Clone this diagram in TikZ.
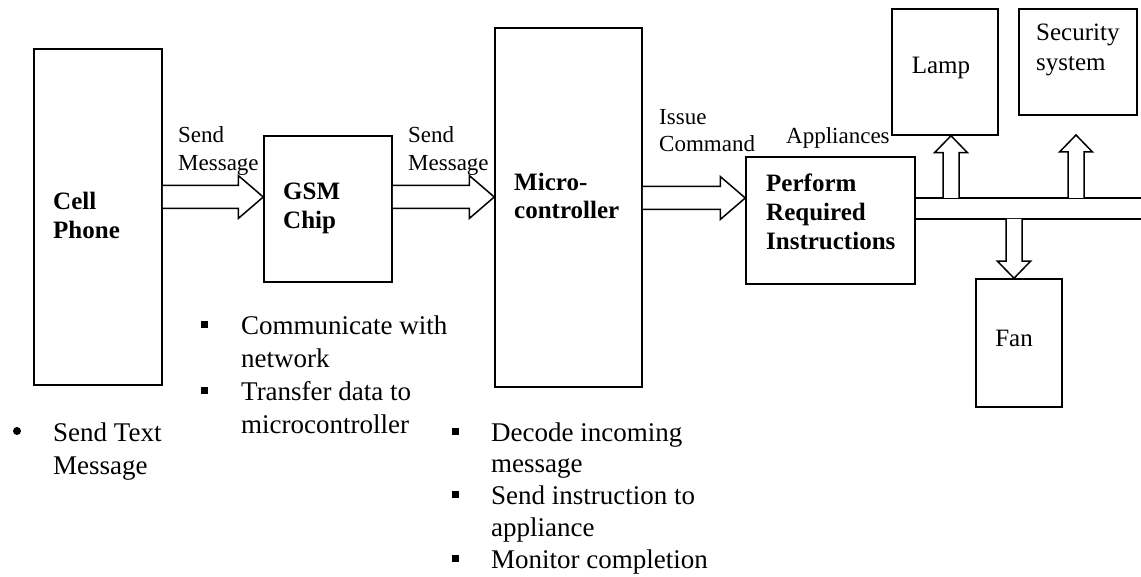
\documentclass[tikz,border=0pt]{standalone}
\usepackage{fontspec}
\setmainfont{Liberation Serif}
\usetikzlibrary{calc}
\newcommand{\harrow}[2]{%
  \draw[blk] ($(#1)+(0,-11.5)$) -- ($(#2)+(-25,-11.5)$) -- ($(#2)+(-25,-21.5)$) -- (#2)
    -- ($(#2)+(-25,21.5)$) -- ($(#2)+(-25,11.5)$) -- ($(#1)+(0,11.5)$);}
\newcommand{\varrow}[3]{%
  \draw[blk] ($(#1)+(-8,0)$) -- ($(#2)+(-8,#3*17)$) -- ($(#2)+(-16.5,#3*17)$) -- (#2)
    -- ($(#2)+(16.5,#3*17)$) -- ($(#2)+(8,#3*17)$) -- ($(#1)+(8,0)$);}
\begin{document}
\begin{tikzpicture}[x=1pt,y=-1pt,
  box/.style={draw,line width=1.5pt,inner sep=0pt},
  blk/.style={draw,fill=white,line width=1.5pt,line join=miter},
  ln/.style={draw,line width=1.5pt},
  title/.style={font=\fontsize{25}{29}\selectfont\bfseries,align=left,anchor=west,inner sep=0pt},
  plain/.style={font=\fontsize{25}{30}\selectfont,align=left,inner sep=0pt},
  lbl/.style={font=\fontsize{23}{27.5}\selectfont,align=left,anchor=west,inner sep=0pt},
  blist/.style={align=left,anchor=base west,inner sep=0pt},
  sq/.style={fill,minimum size=7pt,inner sep=0pt},
  dot/.style={fill,circle,minimum size=8pt,inner sep=0pt}]
\useasboundingbox[fill=white] (0,0) rectangle (1141,577);

% boxes
\node[box,minimum width=128pt,minimum height=336pt] (cell) at (98,217) {};
\node[box,minimum width=128pt,minimum height=146pt] (gsm) at (328,209) {};
\node[box,minimum width=147pt,minimum height=359pt] (micro) at (568.5,207.5) {};
\node[box,minimum width=169pt,minimum height=127pt] (perform) at (830.5,220.5) {};
\node[box,minimum width=106pt,minimum height=126pt] (lamp) at (945,72) {};
\node[box,minimum width=118pt,minimum height=106pt] (security) at (1078,62) {};
\node[box,minimum width=86pt,minimum height=128pt] (fan) at (1019,343) {};

% box texts
\node[title] (tcell) at (53,215) {Cell\\Phone};
\node[title] (tgsm) at (283,208) {GSM\\Chip};
\node[title,font=\fontsize{25}{28}\selectfont\bfseries] (tmicro) at (514,196) {Micro-\\controller};
\node[title] (tperform) at (766,212) {Perform\\Required\\Instructions};
\node[plain] (tlamp) at (941,68) {Lamp};
\node[plain,anchor=west] (tsec) at (1036,50) {Security\\system};
\node[plain] (tfan) at (1014,338) {Fan};

% horizontal block arrows
\coordinate (a1s) at (cell.east |- 0,197);
\coordinate (a1t) at (gsm.west |- 0,197);
\harrow{a1s}{a1t}
\coordinate (a2s) at (gsm.east |- 0,197);
\coordinate (a2t) at (micro.west |- 0,197);
\harrow{a2s}{a2t}
\coordinate (a3s) at (micro.east |- 0,198);
\coordinate (a3t) at (perform.west |- 0,198);
\harrow{a3s}{a3t}

% bus
\coordinate (busR1) at (1141,198);
\coordinate (busR2) at (1141,219);
\draw[ln] (perform.east |- busR1) -- (busR1);
\draw[ln] (perform.east |- busR2) -- (busR2);

% vertical block arrows
\coordinate (lampfoot) at (951,198);
\coordinate (lamptip) at (lamp.south -| lampfoot);
\varrow{lampfoot}{lamptip}{1}
\coordinate (secfoot) at (1076,198);
\coordinate (sectip) at (1076,135);
\varrow{secfoot}{sectip}{1}
\coordinate (fanfoot) at (1014,219);
\coordinate (fantip) at (fan.north -| fanfoot);
\varrow{fanfoot}{fantip}{-1}

% arrow labels
\node[lbl] (l1) at (178,151) {Send\\Message};
\node[lbl] (l2) at (408,151) {Send\\Message};
\node[lbl,font=\fontsize{23}{27}\selectfont] (l3) at (659,130.5) {Issue\\Command};
\node[lbl] (l4) at (786,138) {Appliances};

% bullet lists (base anchor = last line)
\node[dot] (bc1) at (17,431) {};
\node[blist,font=\fontsize{27}{33}\selectfont] (listcell) at (53,474) {Send Text\\Message};

\node[sq] (bg1) at (204,325) {};
\node[sq] (bg2) at (204,390) {};
\node[blist,font=\fontsize{27}{32.7}\selectfont] (listgsm) at (241,433) {Communicate with\\network\\Transfer data to\\microcontroller};

\node[sq] (bm1) at (455,431) {};
\node[sq] (bm2) at (455,494) {};
\node[sq] (bm3) at (455,558) {};
\node[blist,font=\fontsize{27}{31.75}\selectfont] (listmicro) at (491,568) {Decode incoming\\message\\Send instruction to\\appliance\\Monitor completion};
\end{tikzpicture}
\end{document}
